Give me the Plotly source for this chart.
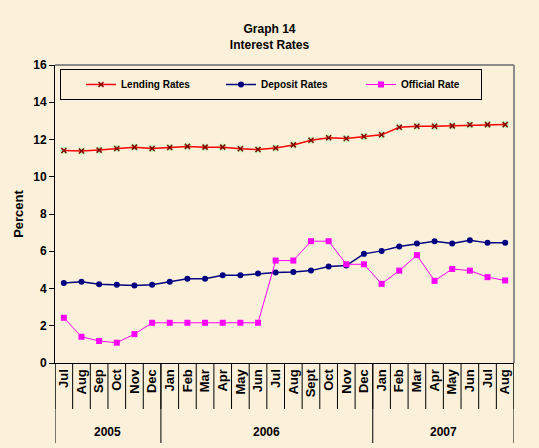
import plotly.graph_objects as go

months = ["Jul", "Aug", "Sep", "Oct", "Nov", "Dec",
          "Jan", "Feb", "Mar", "Apr", "May", "Jun", "Jul", "Aug", "Sept", "Oct", "Nov", "Dec",
          "Jan", "Feb", "Mar", "Apr", "May", "Jun", "Jul", "Aug"]
years = ["2005"] * 6 + ["2006"] * 12 + ["2007"] * 8

lending = [11.41, 11.38, 11.43, 11.52, 11.59, 11.52, 11.57, 11.63, 11.59, 11.59, 11.50, 11.46, 11.54,
           11.71, 11.96, 12.09, 12.05, 12.16, 12.25, 12.66, 12.71, 12.71, 12.73, 12.79, 12.80, 12.80]
deposit = [4.30, 4.36, 4.23, 4.20, 4.16, 4.20, 4.36, 4.52, 4.52, 4.71, 4.71, 4.80, 4.86,
           4.88, 4.96, 5.18, 5.23, 5.86, 6.02, 6.25, 6.41, 6.54, 6.41, 6.59, 6.45, 6.45]
official = [2.43, 1.41, 1.18, 1.09, 1.55, 2.16, 2.16, 2.16, 2.16, 2.16, 2.16, 2.16, 5.50,
            5.50, 6.54, 6.54, 5.30, 5.30, 4.25, 4.96, 5.79, 4.41, 5.05, 4.96, 4.61, 4.43]

xs = list(range(len(months)))
BG = "#FBF1DA"
FONT = "Liberation Sans, Arial, sans-serif"

fig = go.Figure()
fig.add_trace(go.Scatter(x=xs, y=lending, mode="markers", showlegend=False, hoverinfo="skip",
                         marker=dict(symbol="square", size=7, color="#C8F5C0")))
fig.add_trace(go.Scatter(x=xs, y=lending, mode="lines+markers", name="Lending Rates",
                         line=dict(color="#FF0000", width=1.5),
                         marker=dict(symbol="x-thin", size=5, line=dict(color="#800000", width=1.5))))
fig.add_trace(go.Scatter(x=xs, y=deposit, mode="lines+markers", name="Deposit Rates",
                         line=dict(color="#000080", width=1.5),
                         marker=dict(symbol="circle", size=6, color="#000080")))
fig.add_trace(go.Scatter(x=xs, y=official, mode="lines+markers", name="Official Rate",
                         line=dict(color="#FF00FF", width=1),
                         marker=dict(symbol="square", size=6, color="#FF00FF")))

L, R, T, B = 55, 25, 65, 85
W, H = 539, 448
ph = H - T - B

def py(px):
    return (H - B - px) / ph

shapes = []
# month separators
for i in range(len(months) + 1):
    shapes.append(dict(type="line", xref="x", yref="paper", x0=i - 0.5, x1=i - 0.5,
                       y0=0, y1=py(409), line=dict(color="black", width=1)))
# year separators and labels
annotations = []
bounds = [0]
for i in range(1, len(years)):
    if years[i] != years[i - 1]:
        bounds.append(i)
bounds.append(len(years))
for b in bounds:
    shapes.append(dict(type="line", xref="x", yref="paper", x0=b - 0.5, x1=b - 0.5,
                       y0=0, y1=py(443), line=dict(color="black", width=1)))
for a, b in zip(bounds[:-1], bounds[1:]):
    annotations.append(dict(x=(a + b - 1) / 2, y=py(432), xref="x", yref="paper",
                            text=years[a], showarrow=False, yanchor="middle",
                            font=dict(size=12, color="black", family=FONT, weight="bold")))
# gray top/right border
shapes.append(dict(type="line", xref="paper", yref="paper", x0=0, x1=1, y0=1, y1=1,
                   line=dict(color="#8C8C8C", width=2)))
shapes.append(dict(type="line", xref="paper", yref="paper", x0=1, x1=1, y0=0, y1=1,
                   line=dict(color="#8C8C8C", width=2)))

fig.update_layout(
    width=W, height=H,
    margin=dict(l=L, r=R, t=T, b=B),
    paper_bgcolor=BG, plot_bgcolor=BG,
    font=dict(family=FONT, color="black"),
    title=dict(text="Graph 14<br>Interest Rates", x=0.5, xref="container", xanchor="center",
               y=1 - 33 / H, yref="container", yanchor="middle",
               font=dict(size=12, family=FONT, color="black", weight="bold")),
    xaxis=dict(range=[-0.5, len(months) - 0.5], tickmode="array", tickvals=xs, ticktext=months,
               tickangle=-90, ticks="", showgrid=False, zeroline=False,
               showline=True, linecolor="black", linewidth=1,
               tickfont=dict(size=13, family=FONT, color="black", weight="bold")),
    yaxis=dict(range=[0, 16], dtick=2, ticks="outside", ticklen=5, tickcolor="black",
               showgrid=False, zeroline=False, showline=True, linecolor="black", linewidth=1,
               tickfont=dict(size=12, family=FONT, color="black", weight="bold"),
               title=dict(text="Percent", standoff=6,
                          font=dict(size=13, family=FONT, color="black", weight="bold"))),
    legend=dict(orientation="h", x=5 / (W - L - R), y=py(69), xanchor="left", yanchor="top",
                bordercolor="black", borderwidth=1, bgcolor="rgba(0,0,0,0)",
                entrywidth=75, entrywidthmode="pixels", indentation=20,
                font=dict(size=10, family=FONT, color="black", weight="bold")),
    shapes=shapes, annotations=annotations,
)

fig.write_html("out.html", post_script="document.body.style.margin='0px';",
               config={"displayModeBar": False})
